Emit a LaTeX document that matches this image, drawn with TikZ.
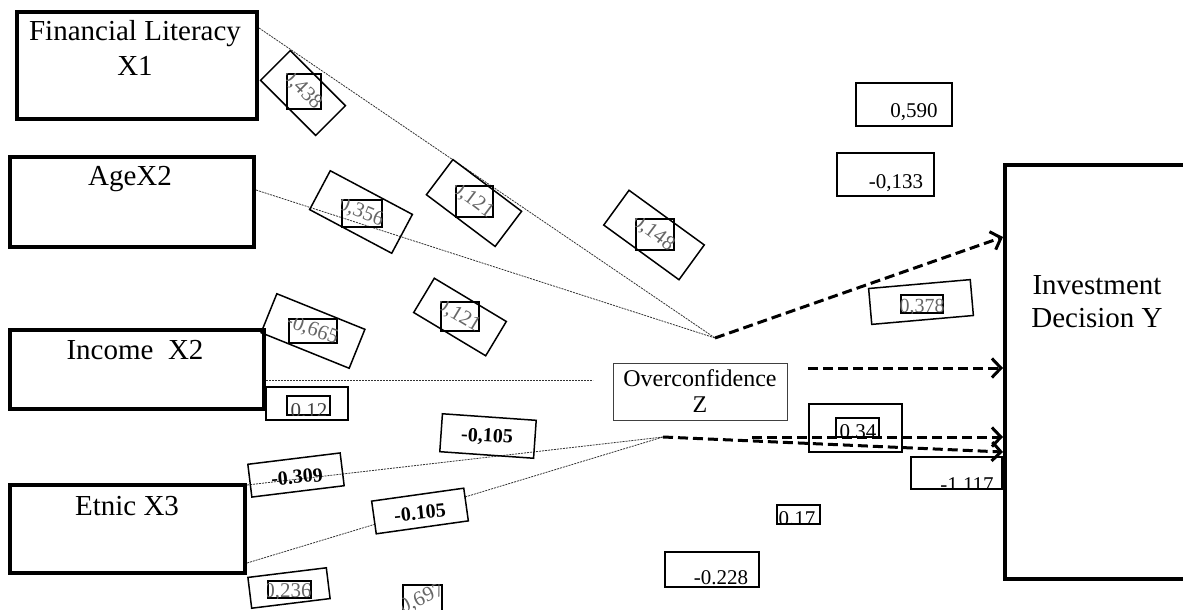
\documentclass[tikz,border=0pt]{standalone}
\usepackage{fontspec}
\setmainfont{Liberation Serif}
\usetikzlibrary{arrows.meta}
\tikzset{
 bigbox/.style={draw, line width=4pt, inner sep=0pt, anchor=north west},
 bigtext/.style={font=\fontsize{29}{34}\selectfont, anchor=base, inner sep=0pt},
 thinline/.style={line width=0.8pt, black!80, dash pattern=on 2pt off 1pt},
 darrow/.style={line width=3pt, dash pattern=on 10pt off 5pt, -{Straight Barb[length=9pt,width=19pt]}},
 rbox/.style={draw, line width=1.5pt, inner sep=0pt},
 ibox/.style={draw, line width=1.5pt, inner sep=0pt},
 glabel/.style={font=\fontsize{21}{21}\selectfont, text=black!60, inner sep=0pt},
 blabel/.style={font=\bfseries\fontsize{20}{20}\selectfont, inner sep=0pt},
 nlabel/.style={font=\fontsize{21}{21}\selectfont, inner sep=0pt, anchor=base},
}
\begin{document}
\begin{tikzpicture}[x=1pt,y=-1pt]
\useasboundingbox (0,0) rectangle (1183,610);
\clip (0,0) rectangle (1183,610);

% main boxes
\node[bigbox, minimum width=240pt, minimum height=107pt] (fl) at (15,10) {};
\node[bigtext] (flt1) at (135,41) {Financial Literacy};
\node[bigtext] (flt2) at (135,75) {X1};
\node[bigbox, minimum width=244pt, minimum height=90pt] (age) at (8,155) {};
\node[bigtext] (aget) at (130,185) {AgeX2};
\node[bigbox, minimum width=254pt, minimum height=79pt] (inc) at (8,328) {};
\node[bigtext] (inct) at (135,359) {Income\ \ X2};
\node[bigbox, minimum width=235pt, minimum height=88pt] (etn) at (8,483) {};
\node[bigtext] (etnt) at (127,515) {Etnic X3};
\node[bigbox, minimum width=190pt, minimum height=414pt] (inv) at (1003,163) {};
\node[bigtext] (invt1) at (1097,294) {Investment};
\node[bigtext] (invt2) at (1097,327) {Decision Y};
\node[draw=black!75, line width=1pt, minimum width=174pt, minimum height=57pt, inner sep=0pt,
      align=center, font=\fontsize{24}{26}\selectfont] (ovc) at (700,391.5) {Overconfidence\\Z};

% junctions and free ends
\coordinate (j1) at (715,338);
\coordinate (j2) at (663,437);
\coordinate (a2s) at (808,368);
\coordinate (a3s) at (752,437);
\coordinate (ie) at (593,380);

% thin lines
\draw[thinline] (fl.east |- 0,28) -- (j1);
\draw[thinline] (age.east |- 0,190) -- (j1);
\draw[thinline] (inc.east |- ie) -- (ie);
\draw[thinline] (etn.east |- 0,485) -- (j2);
\draw[thinline] (etn.east |- 0,563) -- (j2);

% dashed arrows
\draw[darrow] (j1) -- (inv.west |- 0,237);
\draw[darrow] (a2s) -- (inv.west |- 0,368);
\draw[darrow] (a3s) -- (inv.west |- 0,437);
\draw[darrow] (j2) -- (inv.west |- 0,452);

% rotated grey labels
\node[rbox, rotate=-45, minimum width=78pt, minimum height=42pt] (r1) at (303,93) {};
\node[ibox, minimum width=34pt, minimum height=35pt] (i1) at (304,91.5) {};
\begin{scope}\clip (i1.south west) rectangle (i1.north east);
\node[glabel, rotate=-45] (t1) at (302,89.5) {0,438};\end{scope}

\node[rbox, rotate=-37, minimum width=86pt, minimum height=44pt] (r2) at (474,203) {};
\node[ibox, minimum width=37pt, minimum height=31pt] (i2) at (474.5,201.5) {};
\begin{scope}\clip (i2.south west) rectangle (i2.north east);
\node[glabel, rotate=-37] (t2) at (472.5,200) {0,121};\end{scope}

\node[rbox, rotate=-28, minimum width=93pt, minimum height=44pt] (r3) at (361,212) {};
\node[ibox, minimum width=40pt, minimum height=27pt] (i3) at (362,213.5) {};
\begin{scope}\clip (i3.south west) rectangle (i3.north east);
\node[glabel, rotate=-22] (t3) at (361,212.5) {0,356};\end{scope}

\node[rbox, rotate=-36, minimum width=93pt, minimum height=43pt] (r4) at (654,235) {};
\node[ibox, minimum width=38pt, minimum height=31pt] (i4) at (655,234.5) {};
\begin{scope}\clip (i4.south west) rectangle (i4.north east);
\node[glabel, rotate=-37] (t4) at (653,233) {0,148};\end{scope}

\node[rbox, rotate=-22, minimum width=95pt, minimum height=42pt] (r5) at (313,331) {};
\node[ibox, minimum width=48pt, minimum height=24pt] (i5) at (313,331) {};
\begin{scope}\clip (i5.south west) rectangle (i5.north east);
\node[glabel, rotate=-20] (t5) at (312,330) {-0,665};\end{scope}

\node[rbox, rotate=-31, minimum width=84pt, minimum height=40pt] (r6) at (460,317) {};
\node[ibox, minimum width=38pt, minimum height=29pt] (i6) at (460,316.5) {};
\begin{scope}\clip (i6.south west) rectangle (i6.north east);
\node[glabel, rotate=-31] (t6) at (458.5,315.5) {0,121};\end{scope}

% 0.12
\node[rbox, minimum width=82pt, minimum height=33pt] (r7) at (307,403.5) {};
\node[ibox, minimum width=43pt, minimum height=19pt] (i7) at (308.5,405.5) {};
\begin{scope}\clip (i7.south west) rectangle (i7.north east);
\node[nlabel, text=black!75] (t7) at (309,417) {0.12};\end{scope}

% 0,236
\node[rbox, rotate=7, minimum width=79pt, minimum height=31pt] (r8) at (289,588) {};
\node[ibox, minimum width=43pt, minimum height=17pt] (i8) at (289.5,589.5) {};
\begin{scope}\clip (i8.south west) rectangle (i8.north east);
\node[glabel, anchor=base] (t8) at (288,597) {0,236};\end{scope}

% 0,697
\node[ibox, minimum width=39pt, minimum height=40pt] (i9) at (422.5,605) {};
\begin{scope}\clip (i9.south west) rectangle (i9.north east);
\node[glabel, rotate=25] (t9) at (422,599) {0,697};\end{scope}

% 0,378
\node[rbox, rotate=5, minimum width=102pt, minimum height=36pt] (r10) at (921,302) {};
\node[ibox, minimum width=42pt, minimum height=18pt] (i10) at (922,304) {};
\begin{scope}\clip (i10.south west) rectangle (i10.north east);
\node[glabel, anchor=base, font=\fontsize{20}{20}\selectfont] (t10) at (922,312) {0,378};\end{scope}

% 0.34
\node[rbox, minimum width=93pt, minimum height=48pt] (r11) at (855.5,428) {};
\node[ibox, minimum width=43pt, minimum height=19pt] (i11) at (857.5,427.5) {};
\begin{scope}\clip (i11.south west) rectangle (i11.north east);
\node[nlabel] (t11) at (858,438) {0.34};\end{scope}

% 0.17
\node[ibox, minimum width=43pt, minimum height=19pt] (i12) at (798.5,514.5) {};
\begin{scope}\clip (i12.south west) rectangle (i12.north east);
\node[nlabel] (t12) at (797,525) {0.17};\end{scope}

% -1.117
\node[rbox, minimum width=91pt, minimum height=32pt] (r13) at (956.5,473) {};
\begin{scope}\clip (r13.south west) rectangle (r13.north east);
\node[nlabel] (t13) at (967,491) {-1.117};\end{scope}

% -0.228
\node[rbox, minimum width=94pt, minimum height=35pt] (r14) at (712,569.5) {};
\node[nlabel] (t14) at (721,584) {-0.228};

% 0,590 and -0,133
\node[rbox, minimum width=96pt, minimum height=43pt] (r15) at (904,104.5) {};
\node[nlabel] (t15) at (914,117) {0,590};
\node[rbox, minimum width=97pt, minimum height=43pt] (r16) at (885.5,174.5) {};
\node[nlabel] (t16) at (896,188) {-0,133};

% bold labels
\node[rbox, rotate=-4, minimum width=94pt, minimum height=38pt] (r17) at (488,436) {};
\node[blabel, rotate=-3] (t17) at (487,437) {-0,105};
\node[rbox, rotate=7, minimum width=93pt, minimum height=33pt] (r18) at (296,475) {};
\node[blabel, rotate=5] (t18) at (297,477) {-0.309};
\node[rbox, fill=white, rotate=8, minimum width=93pt, minimum height=33pt] (r19) at (420,511) {};
\node[blabel, rotate=6] (t19) at (420,513) {-0.105};
\end{tikzpicture}
\end{document}
